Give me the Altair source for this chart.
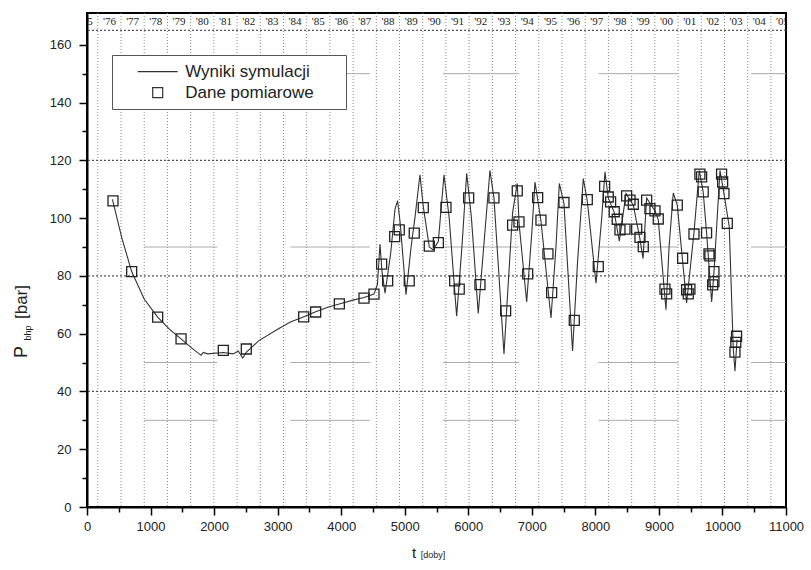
import altair as alt
import pandas as pd

# ---- simulation curve (Wyniki symulacji): time [days], pressure [bar]
sim_t = [400, 550, 703, 900, 1112, 1300, 1480, 1650, 1795, 1830, 1900, 2145, 2300, 2380, 2450, 2507,
         2700, 3000, 3200, 3404, 3598, 3800, 3971, 4200, 4359, 4516, 4570, 4611, 4640, 4690, 4780,
         4846, 4888, 4930, 5020, 5100, 5160, 5240, 5292, 5387, 5450, 5529, 5618, 5700, 5817, 5900,
         5975, 6050, 6157, 6250, 6341, 6404, 6562, 6650, 6698, 6771, 6800, 6919, 7000, 7050, 7144,
         7302, 7380, 7433, 7506, 7641, 7720, 7810, 7873, 8010, 8100, 8151, 8203, 8297, 8377, 8482,
         8597, 8700, 8750, 8807, 8938, 8990, 9111, 9160, 9226, 9289, 9436, 9552, 9635, 9697, 9750,
         9830, 9866, 9961, 10024, 10107, 10170, 10197, 10230]
sim_p = [106.5, 93, 81.5, 72, 65.7, 61.5, 58.2, 55, 52.5, 53.5, 53, 53.5, 53, 54, 51.6, 53.5,
         57.5, 61.5, 64, 65.8, 67.6, 69.2, 70.3, 71.7, 72.5, 73.7, 77, 91, 82, 74, 88,
         103, 106, 98, 73.5, 90, 100, 115, 104, 90, 89, 92, 115, 100, 66, 90,
         115.5, 100, 67, 92, 116.5, 107, 53, 85, 102, 112, 98, 71, 95, 112.5, 99,
         65.4, 90, 112, 105, 54, 85, 113.7, 106, 77.5, 100, 116, 107, 102, 92, 108.5,
         104.5, 93, 86, 107, 102.5, 99.5, 68.3, 90, 108.7, 104.5, 70.6, 95, 116.5, 109, 95,
         71, 81, 116.5, 108.5, 97, 55, 47, 58]

# ---- measurements (Dane pomiarowe)
meas_t = [409, 703, 1112, 1480, 2145, 2507, 3410, 3598, 3971, 4359, 4516, 4637, 4731, 4842, 4914,
          5071, 5150, 5292, 5387, 5529, 5649, 5786, 5858, 6006, 6184, 6404, 6588, 6698, 6771, 6798,
          6935, 7092, 7144, 7254, 7312, 7506, 7668, 7873, 8046, 8146, 8203, 8240, 8297, 8344, 8387,
          8466, 8492, 8545, 8597, 8650, 8702, 8754, 8807, 8859, 8938, 8990, 9095, 9122, 9289, 9373,
          9436, 9462, 9488, 9552, 9645, 9672, 9697, 9750, 9788, 9803, 9846, 9866, 9866, 9986, 10003,
          10024, 10076, 10197, 10210, 10222]
meas_p = [106, 81.5, 65.7, 58.2, 54.2, 54.7, 65.8, 67.5, 70.3, 72.3, 73.7, 84.1, 78.3, 93.6, 95.9,
          78.3, 94.8, 103.6, 90.3, 91.5, 103.7, 78.3, 75.4, 107.0, 77.0, 107.0, 67.9, 97.6, 109.4, 98.7,
          80.7, 107.1, 99.3, 87.6, 74.2, 105.4, 64.6, 106.4, 83.2, 111.0, 107.3, 105.6, 102.2, 99.6, 95.9,
          96.2, 107.7, 106.2, 104.8, 96.2, 93.3, 90.1, 106.2, 103.3, 102.5, 99.7, 75.4, 73.8, 104.5, 86.1,
          75.2, 73.8, 75.4, 94.5, 115.2, 114.3, 109.1, 94.9, 87.6, 86.9, 76.9, 78.0, 81.5, 115.2, 112.5,
          108.5, 98.2, 53.6, 57.0, 59.1]

# ---- calendar strip at the top
year_labels = ["'75", "'76", "'77", "'78", "'79", "'80", "'81", "'82", "'83", "'84", "'85",
               "'86", "'87", "'88", "'89", "'90", "'91", "'92", "'93", "'94", "'95", "'96",
               "'97", "'98", "'99", "'00", "'01", "'02", "'03", "'04", "'05"]
first_year_boundary = 170      # day at which 1976 begins
year_len = 365.25
year_lines = [first_year_boundary + year_len * k for k in range(30)]
year_centers = [first_year_boundary - year_len / 2 + year_len * k for k in range(len(year_labels))]
year_label_level = 168

dotted_levels = [40, 80, 120, 165]
seg_levels = [150, 90, 50, 30]
seg_ranges = [(900, 2050), (3200, 4450), (5600, 6800), (8050, 9300), (10450, 11000)]

series_names = ["Wyniki symulacji", "Dane pomiarowe"]

sim_df = pd.DataFrame({"t": sim_t, "p": sim_p})
meas_df = pd.DataFrame({"t": meas_t, "p": meas_p, "series": series_names[1]})
yl_df = pd.DataFrame({"t": year_lines})
yc_df = pd.DataFrame({"t": year_centers, "p": year_label_level, "label": year_labels})
hd_df = pd.DataFrame({"p": dotted_levels})
seg_df = pd.DataFrame([{"t": a, "t2": b, "p": lv} for lv in seg_levels for (a, b) in seg_ranges])

FONT = "Liberation Sans"
PAD = "\u00a0" * 5 + "\u200b"

xscale = alt.Scale(domain=[0, 11000], nice=False, zero=False)
yscale = alt.Scale(domain=[0, 171], nice=False)
xaxis = alt.Axis(values=list(range(0, 11001, 500)), format="d",
                 labelExpr="datum.value % 1000 === 0 ? datum.label : ''",
                 tickSize={"condition": {"test": "datum.value % 1000 === 0", "value": 8}, "value": 5},
                 grid=False, labelFont=FONT, labelFontSize=13, labelColor="#222",
                 labelPadding=5, tickColor="black", tickWidth=1.5, domainColor="black",
                 domainWidth=2, title=None, labelOverlap=False, labelFlush=False)
yaxis = alt.Axis(values=list(range(0, 161, 10)),
                 labelExpr="datum.value % 20 === 0 ? datum.label : ''",
                 tickSize={"condition": {"test": "datum.value % 20 === 0", "value": 8}, "value": 5},
                 grid=False, labelFont=FONT, labelFontSize=13, labelColor="#222",
                 labelPadding=8, tickColor="black", tickWidth=1.5, domainColor="black",
                 domainWidth=2, title=None, labelOverlap=False)

X = alt.X("t:Q", scale=xscale, axis=xaxis)
Y = alt.Y("p:Q", scale=yscale, axis=yaxis)

vlines = alt.Chart(yl_df).mark_rule(color="#888", strokeDash=[1, 2], strokeWidth=1).encode(x=X)
hlines = alt.Chart(hd_df).mark_rule(color="#555", strokeDash=[2, 2], strokeWidth=1.3).encode(y=Y)
segs = alt.Chart(seg_df).mark_rule(color="#aaa", strokeWidth=1).encode(x=X, x2="t2:Q", y=Y)

line = alt.Chart(sim_df).mark_line(color="#333", strokeWidth=1.1).encode(x=X, y=Y)

points = alt.Chart(meas_df).mark_point(filled=False, size=100, strokeWidth=1.3, color="#222",
                                        opacity=1).encode(
    x=X, y=Y,
    shape=alt.Shape("series:N",
                    scale=alt.Scale(domain=series_names, range=["M-4,0H4", "square"]),
                    legend=alt.Legend(title=None, orient="none", legendX=25, legendY=42,
                                      padding=8.2, rowPadding=3, labelFont=FONT,
                                      labelFontSize=17, labelColor="#222",
                                      symbolOffset=29, labelOffset=19, symbolSize=100,
                                      symbolStrokeWidth=1.2, symbolStrokeColor="#333",
                                      strokeColor="#555", fillColor="white",
                                      labelExpr="datum.label + '" + PAD + "'",
                                      labelLimit=400))
)

years_txt = alt.Chart(yc_df).mark_text(font="Liberation Sans Narrow", fontSize=11, color="#222",
                                        clip=True, baseline="middle").encode(
    x=X, y=Y, text="label:N")

ytitle_P = alt.Chart(pd.DataFrame({"s": ["P"]})).mark_text(
    font=FONT, fontSize=18, angle=270, color="#222").encode(
    text="s:N", x=alt.value(-65), y=alt.value(339))
ytitle_sub = alt.Chart(pd.DataFrame({"s": ["bhp"]})).mark_text(
    font=FONT, fontSize=9, angle=270, color="#222").encode(
    text="s:N", x=alt.value(-59), y=alt.value(320))
ytitle_unit = alt.Chart(pd.DataFrame({"s": ["[bar]"]})).mark_text(
    font=FONT, fontSize=17, angle=270, color="#222").encode(
    text="s:N", x=alt.value(-65), y=alt.value(289))
xtitle_t = alt.Chart(pd.DataFrame({"s": ["t"]})).mark_text(
    font=FONT, fontSize=15, color="#222").encode(
    text="s:N", x=alt.value(327), y=alt.value(540))
xtitle_unit = alt.Chart(pd.DataFrame({"s": ["[doby]"]})).mark_text(
    font=FONT, fontSize=9, color="#222").encode(
    text="s:N", x=alt.value(346), y=alt.value(542))

chart = alt.layer(vlines, hlines, segs, line, points, years_txt,
                  ytitle_P, ytitle_sub, ytitle_unit, xtitle_t, xtitle_unit).properties(
    width=699, height=494,
    autosize=alt.AutoSizeParams(type="none"),
    padding={"left": 87, "top": 13, "right": 25, "bottom": 63},
    background="white",
).configure_view(stroke="black", strokeWidth=2)

chart.save("out.html", embed_options={"renderer": "svg", "actions": False})
